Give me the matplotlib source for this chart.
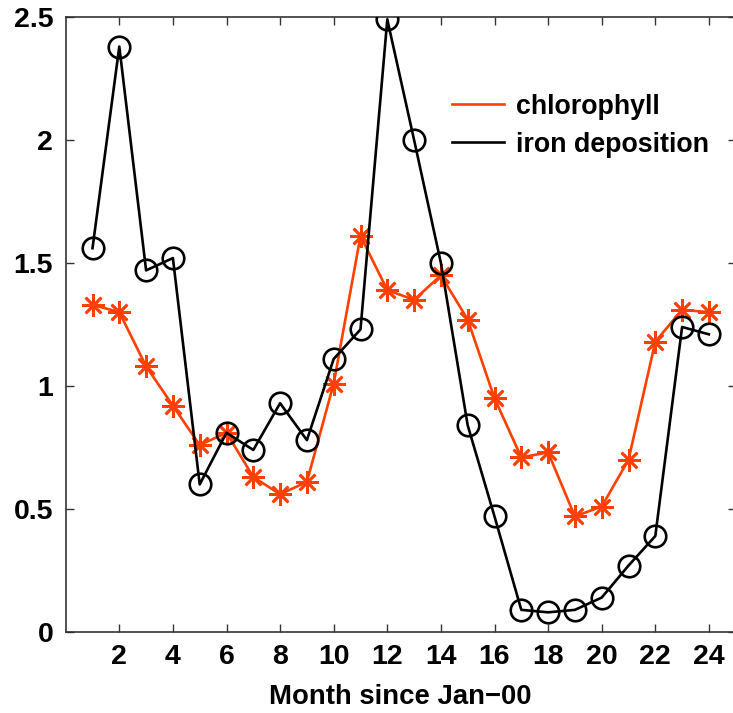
import matplotlib
matplotlib.use("Agg")
import matplotlib.pyplot as plt

months = list(range(1, 25))
chlorophyll = [1.33, 1.30, 1.08, 0.92, 0.76, 0.81, 0.63, 0.56, 0.61, 1.01, 1.61, 1.39,
               1.35, 1.45, 1.27, 0.95, 0.71, 0.73, 0.47, 0.51, 0.70, 1.18, 1.31, 1.30]
iron = [1.56, 2.38, 1.47, 1.52, 0.60, 0.81, 0.74, 0.93, 0.78, 1.11, 1.23, 2.49,
        2.00, 1.50, 0.84, 0.47, 0.09, 0.08, 0.09, 0.14, 0.27, 0.39, 1.24, 1.21]
xticks = list(range(2, 25, 2))
yticks = [0, 0.5, 1, 1.5, 2, 2.5]
ytick_labels = ["0", "0.5", "1", "1.5", "2", "2.5"]

plt.rcParams['font.family'] = ['Liberation Sans', 'DejaVu Sans']
plt.rcParams['font.weight'] = 'bold'

fig = plt.figure(figsize=(7.33, 7.13), dpi=100)
W, H = 733, 713
ax = fig.add_axes([65.7 / W, 1 - 632 / H, 670 / W, 615 / H])

orange = '#FF4000'
ax.plot(months, chlorophyll, color=orange, lw=1.9, marker=(8, 2, 0), ms=16,
        mew=1.9, label='chlorophyll', zorder=2)
ax.plot(months, iron, color='black', lw=1.9, marker='o', ms=15.5, mfc='none',
        mew=1.9, label='iron deposition', zorder=3)

ax.set_xlim(0, 25)
ax.set_ylim(0, 2.5)
ax.set_xticks(xticks)
ax.set_yticks(yticks)
ax.set_yticklabels(ytick_labels)
ax.tick_params(direction='in', length=6, width=1, labelsize=20.5, top=True, right=True,
               color='#333333', pad=9)
for lab in ax.get_xticklabels() + ax.get_yticklabels():
    lab.set_fontweight('bold')
for s in ax.spines.values():
    s.set_linewidth(1.2)
    s.set_color('#333333')
ax.set_xlabel('Month since Jan\u221200', fontsize=19.8, fontweight='bold', labelpad=10)

leg = ax.legend(loc='upper left', bbox_to_anchor=(0.56, 0.893), frameon=False,
                fontsize=19.3, handlelength=1.95, handletextpad=0.45, labelspacing=0.45,
                borderaxespad=0)
for h in leg.legend_handles:
    h.set_marker('')
for t in leg.get_texts():
    t.set_fontweight('bold')

fig.savefig('out.png', dpi=100)
